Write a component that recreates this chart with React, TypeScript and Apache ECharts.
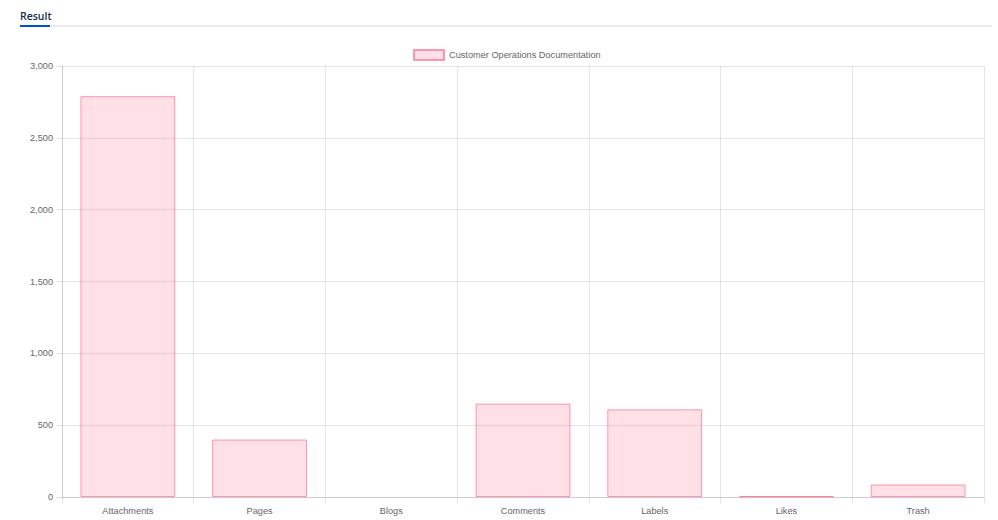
import React, { useEffect, useRef } from "react";
import * as echarts from "echarts";

const categories = ["Attachments", "Pages", "Blogs", "Comments", "Labels", "Likes", "Trash"];
const values = [2790, 400, 0, 650, 610, 5, 87];
const seriesName = "Customer Operations Documentation";
const yTicks = { min: 0, max: 3000, interval: 500 };

const FONT = "'Liberation Sans', Arial, Helvetica, sans-serif";
const FS = 9.2;

export default function App() {
  const ref = useRef<HTMLDivElement>(null);
  useEffect(() => {
    if (!ref.current) return;
    const chart = echarts.init(ref.current, undefined, { renderer: "svg" });
    chart.setOption({
      animation: false,
      backgroundColor: "#ffffff",
      textStyle: { fontFamily: FONT },
      graphic: [
        { type: "rect", shape: { x: 20, y: 25, width: 972, height: 2 }, style: { fill: "#ebecf0" } },
        { type: "rect", shape: { x: 20, y: 25, width: 30, height: 2 }, style: { fill: "#0052cc" } },
        {
          type: "text",
          x: 20,
          y: 16,
          style: {
            text: "Result",
            fill: "#172b4d",
            font: "600 10.5px 'Open Sans', 'Noto Sans', sans-serif",
            verticalAlign: "middle",
            align: "left",
          },
        },
      ],
      legend: {
        left: 413,
        top: 49,
        padding: 0,
        itemWidth: 30,
        itemHeight: 10,
        itemGap: 10,
        icon: "rect",
        textStyle: { fontSize: FS, color: "#666", fontFamily: FONT },
        data: [seriesName],
      },
      grid: { left: 62, right: 14, top: 66, bottom: 23, containLabel: false },
      xAxis: {
        type: "category",
        data: categories,
        boundaryGap: true,
        axisLine: { show: true, lineStyle: { color: "rgba(0,0,0,0.1)" } },
        axisTick: { show: true, length: 6, lineStyle: { color: "rgba(0,0,0,0.1)" } },
        splitLine: { show: true, lineStyle: { color: "rgba(0,0,0,0.1)" } },
        axisLabel: { color: "#666", fontSize: FS, margin: 9, fontFamily: FONT },
      },
      yAxis: {
        type: "value",
        min: yTicks.min,
        max: yTicks.max,
        interval: yTicks.interval,
        axisLine: { show: true, lineStyle: { color: "rgba(0,0,0,0.1)" } },
        axisTick: { show: true, length: 6, lineStyle: { color: "rgba(0,0,0,0.1)" } },
        splitLine: { show: true, lineStyle: { color: "rgba(0,0,0,0.1)" } },
        axisLabel: {
          color: "#666",
          fontSize: FS,
          margin: 9,
          fontFamily: FONT,
          formatter: (v: number) => v.toLocaleString("en-US"),
        },
      },
      series: [
        {
          name: seriesName,
          type: "bar",
          data: values.map((v) => (v === 0 ? { value: v, itemStyle: { borderWidth: 0 } } : v)),
          barCategoryGap: "28%",
          itemStyle: {
            color: "rgba(255,99,132,0.2)",
            borderColor: "rgba(255,99,132,0.65)",
            borderWidth: 1,
          },
        },
      ],
    });
    return () => chart.dispose();
  }, []);
  return (
    <div
      ref={ref}
      style={{ position: "absolute", left: 0, top: 0, width: 998, height: 520, background: "#fff" }}
    />
  );
}
